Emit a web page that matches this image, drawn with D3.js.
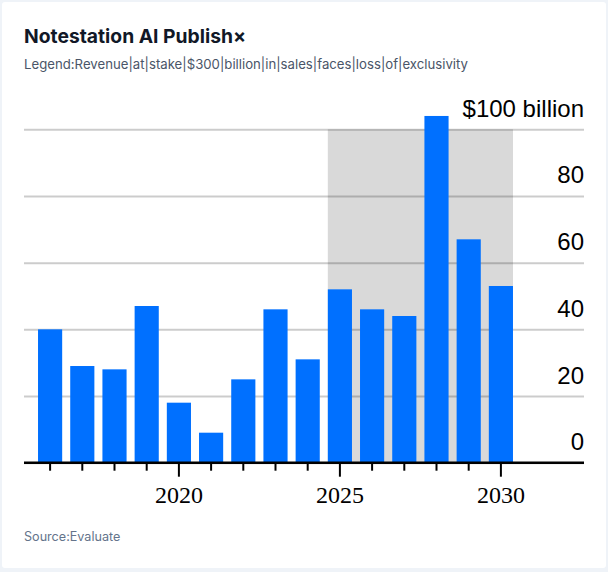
<!DOCTYPE html>
<html>
<head>
<meta charset="utf-8">
<script src="https://cdn.jsdelivr.net/npm/d3@7"></script>
<style>
  html, body { margin: 0; padding: 0; background: #eff3f8; }
  #card { position: absolute; left: 2px; top: 2px; width: 604px; height: 566px; background: #fff; border-radius: 3px; }
  svg { display: block; }
</style>
</head>
<body>
<div id="card"><svg width="604" height="566"></svg></div>
<script>
// chart values
const years = [2016, 2017, 2018, 2019, 2020, 2021, 2022, 2023, 2024, 2025, 2026, 2027, 2028, 2029, 2030];
const revenue = [40, 29, 28, 47, 18, 9, 25, 46, 31, 52, 46, 44, 104, 67, 53];
const yTicks = [0, 20, 40, 60, 80, 100];
const yTickLabels = ['0', '20', '40', '60', '80', '$100 billion'];
const labelledYears = [2020, 2025, 2030];
const shadedYears = [2025, 2030];

const title = 'Notestation AI Publish×';
const subtitle = 'Legend:Revenue|at|stake|$300|billion|in|sales|faces|loss|of|exclusivity';
const source = 'Source:Evaluate';

(function(){
    const svg = d3.select('#card svg');
    // card is offset by 2px, so subtract it from page coords
    const g = svg.append('g').attr('transform', 'translate(-2,-2)');

    const left = 24, right = 584, base = 462.7;

    const x = d3.scaleBand().domain(years).range([34, 517]).paddingInner(0.25).paddingOuter(0.125);
    const y = d3.scaleLinear().domain([0, 100]).range([base, base - 333.4]);

    // shaded forecast window
    g.append('rect')
        .attr('x', x(shadedYears[0]))
        .attr('y', y(100))
        .attr('width', x(shadedYears[1]) + x.bandwidth() - x(shadedYears[0]))
        .attr('height', y(0) - y(100))
        .attr('fill', '#d9d9d9');

    // gridlines + y labels
    const yAxis = g.append('g')
        .attr('transform', `translate(${right},0)`)
        .call(d3.axisLeft(y).tickValues(yTicks).tickSize(right - left).tickFormat((d, i) => yTickLabels[i]));
    yAxis.select('.domain').remove();
    yAxis.selectAll('.tick line').attr('stroke', '#000').attr('stroke-opacity', 0.2).attr('stroke-width', 2);
    yAxis.selectAll('.tick text')
        .attr('x', 0).attr('dy', -13)
        .attr('text-anchor', 'end')
        .style('font-family', '"Liberation Sans", Arial, sans-serif')
        .style('font-size', '24px')
        .attr('fill', '#000');

    g.selectAll('rect.bar').data(years).join('rect')
        .attr('class', 'bar')
        .attr('x', d => x(d))
        .attr('y', (d, i) => y(revenue[i]))
        .attr('width', x.bandwidth())
        .attr('height', (d, i) => y(0) - y(revenue[i]))
        .attr('fill', '#0070ff');

    // x axis: ticks under each bar, longer + labelled every 5 years
    const xAxis = g.append('g')
        .attr('transform', `translate(0,${base})`)
        .call(d3.axisBottom(x).tickSizeOuter(0).tickSize(8).tickPadding(15)
            .tickFormat(d => labelledYears.includes(d) ? d : ''));
    xAxis.select('.domain').remove();
    xAxis.selectAll('.tick line').attr('stroke', '#000').attr('stroke-width', 2)
        .filter(d => labelledYears.includes(d)).attr('y2', 14);
    xAxis.selectAll('.tick text')
        .attr('fill', '#000')
        .style('font-family', '"Liberation Serif", "Times New Roman", serif')
        .style('font-size', '24px');
    g.append('line')
        .attr('x1', left).attr('x2', right)
        .attr('y1', base).attr('y2', base)
        .attr('stroke', '#000').attr('stroke-width', 2.5);

    g.append('text').attr('x', 24).attr('y', 43).text(title)
        .style('font-family', 'Inter, sans-serif').style('font-weight', 700).style('font-size', '19.3px')
        .attr('fill', '#111827');
    g.append('text').attr('x', 24).attr('y', 69).text(subtitle)
        .style('font-family', 'Inter, sans-serif').style('font-size', '13.2px')
        .attr('fill', '#4a5568');
    g.append('text').attr('x', 24).attr('y', 541).text(source)
        .style('font-family', 'Inter, sans-serif').style('font-size', '12.6px')
        .attr('fill', '#64748b');
})();
</script>
</body>
</html>
